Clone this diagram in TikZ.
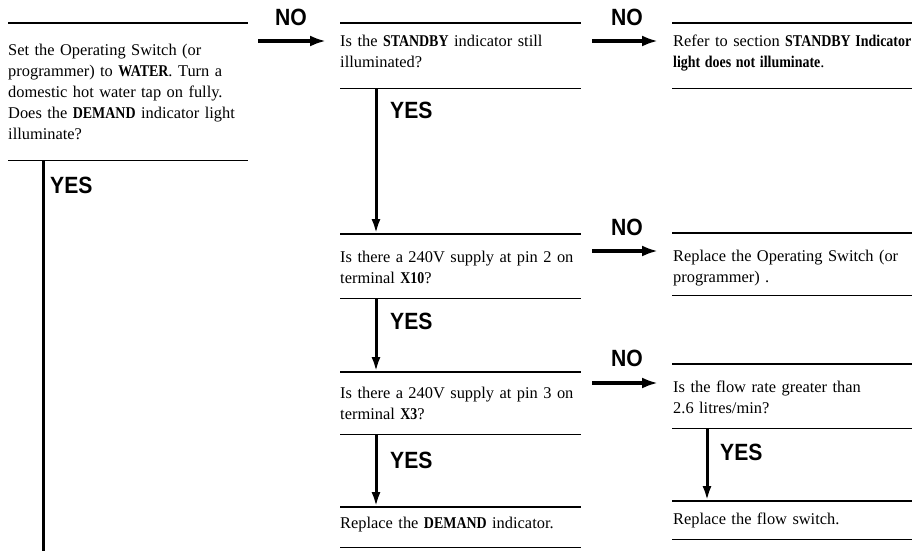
\documentclass[tikz,border=0pt]{standalone}
\usepackage{fontspec}
\setmainfont{Liberation Serif}
\newfontfamily\labfont{Liberation Sans}
\usepackage{graphicx}
\usetikzlibrary{arrows.meta,calc}
\newcommand{\B}[1]{\scalebox{0.85}[1]{\bfseries #1}}
\frenchspacing
\begin{document}
\begin{tikzpicture}[x=1pt,y=-1pt,
  box/.style={rectangle, inner sep=0pt, minimum width=240pt, anchor=north west},
  rule/.style={line width=1.6pt},
  txt/.style={inner sep=0pt, anchor=base west, align=left, text width=262pt, font=\fontsize{16.4}{21.2}\selectfont\frenchspacing},
  lab/.style={inner sep=0pt, font=\labfont\fontsize{23.5}{23.5}\selectfont\bfseries},
  noarrow/.style={line width=4pt, -{Latex[length=16pt,width=11pt]}},
  yesarrow/.style={line width=3pt, -{Latex[length=15pt,width=9pt]}},
  yesline/.style={line width=3pt},
]
\useasboundingbox (0,0) rectangle (912,550);
% boxes
\node[box, minimum height=137pt] (b1) at (8,23) {};
\node[box, minimum height=65pt, minimum width=241pt] (b2) at (340,23) {};
\node[box, minimum height=65pt] (b3) at (672,23) {};
\node[box, minimum height=64pt, minimum width=241pt] (b4) at (340,234) {};
\node[box, minimum height=62pt] (b5) at (672,233) {};
\node[box, minimum height=62pt, minimum width=241pt] (b6) at (340,372) {};
\node[box, minimum height=64pt] (b7) at (672,364) {};
\node[box, minimum height=40pt, minimum width=241pt] (b8) at (340,507) {};
\node[box, minimum height=38pt] (b9) at (672,501) {};
\foreach \b in {b1,b2,b3,b4,b5,b6,b7,b8,b9} {
  \draw[rule] (\b.north west) -- (\b.north east) (\b.south west) -- (\b.south east);
}
% texts
\node[txt] (t1) at (8,55) {Set the Operating Switch (or\\programmer) to \B{WATER}. Turn a\\domestic hot water tap on fully.\\Does the \B{DEMAND} indicator light\\illuminate?};
\node[txt] (t2) at (340,46) {Is the \B{STANDBY} indicator still\\illuminated?};
\node[txt] (t3) at (673,46) {Refer to section \B{STANDBY Indicator}\\\B{light does not illuminate}.};
\node[txt] (t4) at (340,262) {Is there a 240V supply at pin 2 on\\terminal \B{X10}?};
\node[txt] (t5) at (673,261) {Replace the Operating Switch (or\\programmer) .};
\node[txt] (t6) at (340,398) {Is there a 240V supply at pin 3 on\\terminal \B{X3}?};
\node[txt] (t7) at (673,392) {Is the flow rate greater than\\2.6 litres/min?};
\node[txt] (t8) at (340,528) {Replace the \B{DEMAND} indicator.};
\node[txt] (t9) at (673,524) {Replace the flow switch.};
% labels
\node[lab] (n1) at (291,17) {\scalebox{0.9}[1]{NO}};
\node[lab] (n2) at (627,17) {\scalebox{0.9}[1]{NO}};
\node[lab] (n3) at (627,227) {\scalebox{0.9}[1]{NO}};
\node[lab] (n4) at (627,358) {\scalebox{0.9}[1]{NO}};
\node[lab, anchor=west] (y1) at (50,185) {\scalebox{0.9}[1]{YES}};
\node[lab, anchor=west] (y2) at (390,110) {\scalebox{0.9}[1]{YES}};
\node[lab, anchor=west] (y3) at (390,321) {\scalebox{0.9}[1]{YES}};
\node[lab, anchor=west] (y4) at (390,460) {\scalebox{0.9}[1]{YES}};
\node[lab, anchor=west] (y5) at (720,452) {\scalebox{0.9}[1]{YES}};
% NO connectors
\draw[noarrow] ($(b1.north east)+(10,18)$) -- ($(b2.north west)+(-14,18)$);
\draw[noarrow] ($(b2.north east)+(11,18)$) -- ($(b3.north west)+(-14,18)$);
\draw[noarrow] ($(b4.north east)+(11,17)$) -- ($(b5.north west)+(-14,18)$);
\draw[noarrow] ($(b6.north east)+(11,11)$) -- ($(b7.north west)+(-14,19)$);
% YES connectors
\coordinate (end1) at (43,552);
\draw[yesline] ($(b1.south west)+(35,0)$) -- (end1);
\draw[yesarrow] ($(b2.south west)+(36,0)$) -- ($(b4.north west)+(36,0)$);
\draw[yesarrow] ($(b4.south west)+(36,0)$) -- ($(b6.north west)+(36,0)$);
\draw[yesarrow] ($(b6.south west)+(36,0)$) -- ($(b8.north west)+(36,0)$);
\draw[yesarrow] ($(b7.south west)+(35,0)$) -- ($(b9.north west)+(35,0)$);
\end{tikzpicture}
\end{document}
